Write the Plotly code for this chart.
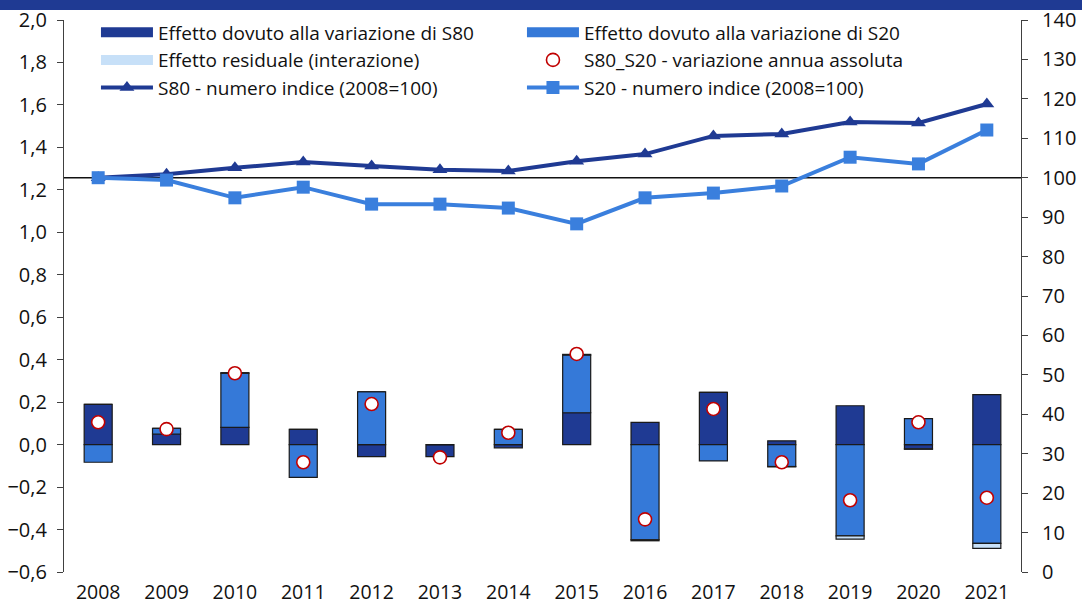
import plotly.graph_objects as go

years = [str(y) for y in range(2008, 2022)]

eff_s80 = [0.190, 0.050, 0.081, 0.072, -0.057, -0.057, -0.015, 0.150, 0.105, 0.246, 0.018, 0.183, -0.020, 0.235]
eff_s20 = [-0.083, 0.027, 0.255, -0.154, 0.249, 0.000, 0.072, 0.272, -0.448, -0.077, -0.103, -0.430, 0.122, -0.465]
eff_res = [0.000, 0.000, 0.003, 0.000, 0.000, 0.000, 0.000, 0.003, -0.005, 0.000, -0.002, -0.015, -0.002, -0.024]
var_abs = [0.105, 0.073, 0.336, -0.083, 0.191, -0.060, 0.056, 0.427, -0.352, 0.168, -0.083, -0.262, 0.105, -0.250]

idx_s80 = [100.0, 100.9, 102.5, 104.0, 103.0, 102.0, 101.7, 104.2, 106.0, 110.6, 111.1, 114.1, 113.9, 118.7]
idx_s20 = [100.0, 99.4, 94.9, 97.6, 93.3, 93.3, 92.3, 88.3, 94.9, 96.1, 97.9, 105.2, 103.5, 112.1]

names = [
    "Effetto dovuto alla variazione di S80",
    "Effetto dovuto alla variazione di S20",
    "Effetto residuale (interazione)",
    "S80_S20 - variazione annua assoluta",
    "S80 - numero indice (2008=100)",
    "S20 - numero indice (2008=100)",
]

C_DARK = "#1F3A93"
C_MID = "#3579D8"
C_LIGHT = "#C7E0F8"
C_LINE20 = "#3A7FDD"
FONT = "Open Sans"

fig = go.Figure()
bar_line = dict(color="#1a1a1a", width=1.2)
bar_cols = [C_DARK, C_MID, C_LIGHT]
for vals, col in zip([eff_s80, eff_s20, eff_res], bar_cols):
    fig.add_trace(go.Bar(x=years, y=vals, marker=dict(color=col, line=bar_line), width=0.41, showlegend=False))

# legend entries for the bar series (wide rectangle swatches, as in the original)
for nm, col in zip(names[:3], bar_cols):
    fig.add_trace(go.Scatter(x=[None], y=[None], name=nm, mode="lines",
                             line=dict(color=col, width=10)))

fig.add_trace(go.Scatter(x=years, y=var_abs, name=names[3], mode="markers",
                         marker=dict(symbol="circle", size=13, color="white", line=dict(color="#C00000", width=1.6))))
fig.add_trace(go.Scatter(x=years, y=idx_s80, name=names[4], mode="lines+markers", yaxis="y2",
                         line=dict(color=C_DARK, width=4),
                         marker=dict(symbol="triangle-up", size=13, color=C_DARK)))
fig.add_trace(go.Scatter(x=years, y=idx_s20, name=names[5], mode="lines+markers", yaxis="y2",
                         line=dict(color=C_LINE20, width=4),
                         marker=dict(symbol="square", size=13, color=C_LINE20)))

ymin, ymax = -0.6, 2.0
axis_col = "#404040"

fig.update_layout(
    width=1082, height=606,
    margin=dict(l=64, r=61, t=20, b=34, autoexpand=False),
    paper_bgcolor="white", plot_bgcolor="white",
    barmode="relative",
    separators=",.",
    font=dict(family=FONT, size=19, color="#111111"),
    showlegend=True,
    legend=dict(orientation="h", x=0.0334, y=0.978, xref="paper", yref="container",
                xanchor="left", yanchor="top",
                traceorder="normal", entrywidth=359, bgcolor="rgba(0,0,0,0)",
                font=dict(size=19), tracegroupgap=0, itemwidth=52),
    xaxis=dict(type="category", range=[-0.5, 13.5], showline=False, ticks="outside", ticklen=3,
               tickcolor="rgba(0,0,0,0)", showgrid=False, zeroline=False, tickfont=dict(size=19.5),
               automargin=False),
    xaxis2=dict(overlaying="x", anchor="free", position=(0 - ymin) / (ymax - ymin),
                range=[-0.5, 13.5], tickmode="array", tickvals=[i - 0.5 for i in range(len(years) + 1)],
                ticks="outside", ticklen=6, tickcolor=axis_col, showticklabels=False,
                showline=True, linecolor="#222222", linewidth=1.5, showgrid=False, zeroline=False,
                automargin=False),
    yaxis=dict(range=[ymin, ymax], dtick=0.2, tick0=0, tickformat=".1f", ticks="outside", ticklen=6,
               tickcolor=axis_col, showline=True, linecolor=axis_col, linewidth=1.2,
               showgrid=False, zeroline=False, tickfont=dict(size=20), ticklabelstandoff=6,
               automargin=False),
    yaxis2=dict(range=[0, 140], dtick=10, overlaying="y", side="right", ticks="outside", ticklen=6,
                tickcolor=axis_col, showline=True, linecolor=axis_col, linewidth=1.2,
                showgrid=False, zeroline=False, tickfont=dict(size=20), ticklabelstandoff=10,
                automargin=False),
)

# header band
fig.add_shape(type="rect", xref="paper", yref="paper", x0=-0.1, x1=1.1,
              y0=1 + 10 / 552, y1=1 + 21 / 552, fillcolor="#1F3A93", line=dict(width=0), layer="above")
# reference line at index 100
fig.add_shape(type="line", xref="paper", yref="y2", x0=0, x1=1, y0=100, y1=100,
              line=dict(color="#111111", width=1.5), layer="below")

fig.write_html("out.html", config={"displayModeBar": False},
               post_script="document.body.style.margin='0';document.body.style.overflow='hidden';")
